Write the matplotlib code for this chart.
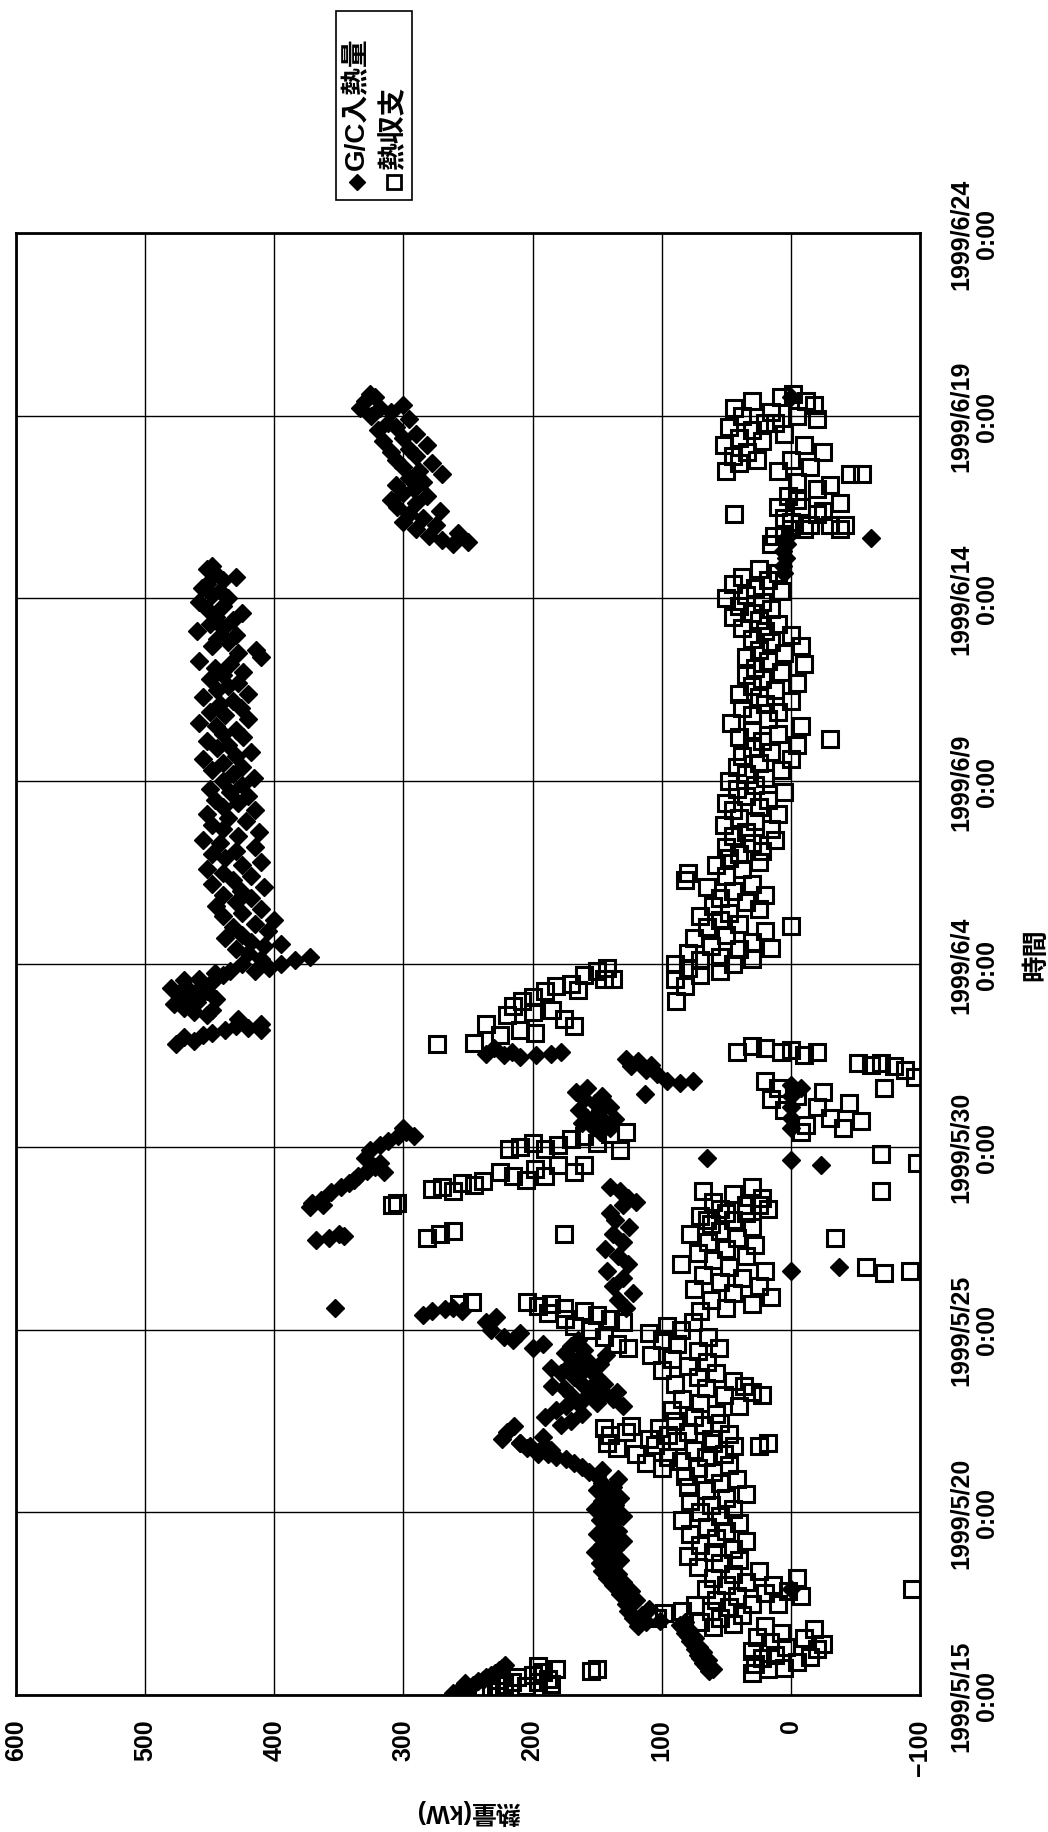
import matplotlib
matplotlib.use("Agg")
import matplotlib.pyplot as plt
from matplotlib.patches import Rectangle
from matplotlib.lines import Line2D
import numpy as np

plt.rcParams['font.family'] = ['Liberation Sans', 'Noto Sans CJK JP', 'DejaVu Sans']
plt.rcParams['font.weight'] = 'bold'

# ---- axis definitions ----
heat_ticks = [600, 500, 400, 300, 200, 100, 0, -100]
heat_labels = ["600", "500", "400", "300", "200", "100", "0", "\u2212100"]
day_ticks = [0, 5, 10, 15, 20, 25, 30, 35, 40]       # days from 1999/5/15 0:00
date_labels = ["1999/5/15\n0:00", "1999/5/20\n0:00", "1999/5/25\n0:00",
               "1999/5/30\n0:00", "1999/6/4\n0:00", "1999/6/9\n0:00",
               "1999/6/14\n0:00", "1999/6/19\n0:00", "1999/6/24\n0:00"]
legend_labels = ["G/C入熱量", "熱収支"]
heat_title = "熱量(kW)"
time_title = "時間"

# ---- G/C入熱量 (day, kW) ----
gc_may15_17 = [(0.05,262),(0.12,258),(0.18,255),(0.22,250),(0.28,246),(0.32,252),(0.38,242),
               (0.42,238),(0.48,236),(0.55,232),(0.6,229),(0.68,226),(0.75,224),(0.82,221),
               (0.65,63),(0.72,60),(0.8,66),(0.88,68),(0.95,64),(1.02,70),(1.1,72),(1.18,68),
               (1.25,74),(1.32,71),(1.4,76),(1.48,78),(1.55,74),(1.62,80),(1.7,82),(1.78,79),
               (1.85,84),(1.92,86),(2.0,82),(2.02,101),(2.9,0)]
gc_may17_22 = [(1.9,118),(2.0,112),(2.1,122),(2.2,115),(2.3,126),(2.35,110),(2.5,128),(2.6,120),
               (2.75,132),(2.85,124),(3.0,138),(3.1,130),(3.2,142),(3.3,134),(3.4,146),
               (3.5,138),(3.6,148),(3.7,132),(3.8,142),(3.9,152),(4.0,136),(4.1,146),(4.2,130),
               (4.3,140),(4.4,150),(4.5,134),(4.6,144),(4.7,138),(4.8,148),(4.9,130),(5.0,142),
               (5.1,152),(5.2,136),(5.3,146),(5.4,132),(5.5,142),(5.6,150),(5.7,138),(5.8,146),
               (5.9,134),(6.0,150),(6.1,156),(6.15,146),(6.25,162),(6.35,168),(6.45,174),
               (6.5,182),(6.6,188),(6.65,196),(6.75,204),(6.8,190),(6.9,210)]
gc_may22_28 = [(7.0,224),(7.2,220),(7.35,214),(6.9,210),(6.8,202),(6.6,196),(6.7,186),(7.05,192),
               (7.4,178),(7.5,170),(7.6,190),(7.8,182),(7.9,174),(8.0,165),(7.7,162),
               (8.1,160),(8.2,170),(8.3,155),(8.4,176),(8.5,162),(8.6,150),(8.7,168),(8.8,178),
               (8.9,160),(9.0,172),(9.1,156),(9.2,165),(9.3,143),(9.35,175),(9.45,160),
               (9.55,170),(9.7,165),(7.9,130),(8.1,138),(8.3,135),(8.5,145),
               (8.0,150),(8.25,145),(8.75,152),(9.05,148),(8.45,185),(8.95,186),
               (9.5,200),(9.6,192),(9.7,215),(9.8,222),(9.9,210),(10.0,232),(10.2,236),
               (10.35,228),(10.4,285),(10.5,278),(10.55,268),(10.6,262),(10.5,255),(10.6,353),
               (10.6,128),(10.8,134),(11.0,122),(11.2,138),(11.4,130),(11.6,142),(11.8,126),
               (12.0,134),(12.2,144),(12.4,130),(12.6,138),(12.8,125),(13.0,136),(13.2,140),
               (13.4,130),(13.6,126),(13.8,132),(13.9,140),(13.5,120),(11.6,0),(11.7,-37),
               (12.45,368),(12.5,358),(12.6,350),(12.55,346),(13.35,372),(13.4,362)]
gc_may28_jun03 = [(13.45,371),(13.55,364),(13.75,356),(13.9,348),(14.0,342),(14.1,338),(14.2,335),
                  (14.35,328),(14.45,322),(14.3,315),(14.55,318),(14.7,330),(14.9,326),(15.05,318),
                  (15.15,312),(15.3,304),(15.4,298),(15.3,292),(15.5,300),(18.2,410),
                  (17.55,236),(17.7,230),(17.5,222),(17.6,216),(17.45,210),(17.5,197),(17.55,186),
                  (17.6,178),(17.4,128),(17.2,124),(17.35,118),(17.1,112),(17.0,104),(17.25,108),
                  (16.8,96),(16.75,86),(16.8,76),(16.45,113),(16.5,166),(16.6,158),(16.3,160),
                  (16.2,152),(16.0,164),(15.9,150),(15.8,158),(15.7,145),(15.6,155),(15.5,140),
                  (15.4,148),(16.1,140),(15.75,136),(16.4,146),(16.0,148),(15.65,162),
                  (14.7,65),(15.5,0),(15.8,0),(16.1,0),
                  (16.4,0),(16.7,0),(16.6,-8),(14.65,0),(14.5,-23),
                  (17.8,476),(17.9,462),(18.0,470),(18.05,455),(18.1,448),(18.2,438),(18.3,430),
                  (18.25,420),(18.35,410),(18.5,428),(18.6,452),(18.7,462),(18.8,470),
                  (18.9,478),(19.0,468),(19.1,458),(19.2,474),(19.3,466),(19.4,456),(19.5,448),
                  (19.6,458),(19.7,440),(19.8,434),(19.75,446),(18.75,448),(19.05,445),
                  (19.35,480),(19.55,470),(18.95,460),(19.25,452)]
gc_jun04_13 = [(19.8,415),(19.9,404),(20.0,395),(20.1,384),(20.2,372),(20.0,425),(20.15,410),
               (20.3,420),(20.4,430),(20.5,408),(20.55,395),(20.6,418),(20.7,438),(20.8,425),
               (20.9,405),(21.0,432),(21.1,415),(21.2,400),(21.3,440),(21.4,425),(21.5,410),
               (21.6,445),(21.7,430),(21.8,418),(21.9,440),(22.0,426),(22.1,408),(22.2,448),
               (22.3,432),(22.4,418),(22.5,440),(22.6,452),(22.7,425),(22.8,410),(22.9,438),
               (23.0,448),(23.1,430),(23.2,415),(23.3,442),(23.4,455),(23.5,428),(23.6,412),
               (23.7,440),(23.8,448),(23.9,422),(24.0,436),(24.1,452),(24.2,415),(24.3,440),
               (24.4,428),(24.5,446),(24.6,420),(24.7,434),(24.8,450),(24.9,425),(25.0,440),
               (25.1,416),(25.2,432),(25.3,448),(25.4,425),(25.5,440),(25.6,455),(25.7,430),
               (25.8,418),(25.9,444),(26.0,436),(26.1,452),(26.2,424),(26.3,440),(26.4,430),
               (26.5,445),(26.6,458),(26.7,420),(26.8,438),(26.9,450),(27.0,426),(27.1,442),
               (27.2,432),(27.3,455),(27.4,420),(27.5,444),(27.6,436),(27.7,428),(27.8,450),
               (27.9,440),(28.0,424),(28.1,446),(28.2,434),(28.3,458),(28.4,410),(28.5,428),
               (28.6,414),(28.7,448),(28.8,436),(28.9,444),(29.0,430),(29.1,460),(29.2,440),
               (29.3,450),(29.4,432),(29.5,445),(29.6,425),(29.7,452),(29.8,440),(29.9,458),
               (30.0,436),(30.1,448),(30.2,442),(30.3,456),(30.4,452),(30.5,440),(30.6,430),
               (30.7,446),(30.8,452),(30.9,448)]
gc_jun14_19 = [(30.7,5),(30.9,6),(31.1,4),(31.3,6),(31.5,3),(31.7,2),(31.65,-62),(35.5,0),
               (31.5,262),(31.55,250),(31.6,270),(31.7,280),(31.8,258),(31.9,290),(32.0,275),
               (32.1,300),(32.2,285),(32.3,296),(32.4,272),(32.5,305),(32.6,290),(32.7,310),
               (32.8,282),(32.9,300),(33.0,292),(33.1,306),(33.2,285),(33.3,296),(33.4,270),
               (33.5,288),(33.6,300),(33.7,278),(33.8,306),(33.9,290),(34.0,310),(34.1,296),
               (34.2,282),(34.3,316),(34.4,300),(34.5,290),(34.6,320),(34.7,306),(34.8,312),
               (34.9,296),(35.0,325),(35.1,310),(35.2,318),(35.3,300),(35.4,330),(35.5,322),
               (35.6,326),(35.2,334)]

# ---- 熱収支 (day, kW) ----
hb_may15_22 = [(0.05,238),(0.12,228),(0.2,232),(0.28,222),(0.35,216),(0.42,226),(0.48,212),
               (0.25,205),(0.35,196),(0.45,188),(0.55,200),(0.62,192),(0.7,182),(0.78,196),
               (0.3,186),(0.65,155),(0.72,150),
               (0.6,30),(0.7,18),(0.75,5),(0.85,28),(0.9,-5),(1.0,22),(1.05,-15),(1.1,12),
               (1.2,30),(1.25,-20),(1.3,4),(1.4,-25),(1.45,16),(1.55,-10),(1.6,26),(1.7,8),
               (1.8,-18),(1.9,20),(2.1,104),(2.25,98),(2.3,84),(2.45,74),
               (1.85,60),(1.95,45),(2.0,70),(2.1,55),(2.2,38),(2.3,62),(2.4,48),(2.5,30),
               (2.6,58),(2.7,42),(2.8,20),(2.9,66),(3.0,50),(3.1,35),(3.2,60),(3.3,45),
               (3.4,25),(3.5,72),(3.6,55),(3.7,40),(2.5,10),(2.7,-8),(2.85,2),(3.0,14),
               (3.2,-5),(2.9,-94),
               (3.8,80),(3.9,60),(4.0,45),(4.1,70),(4.2,35),(4.3,58),(4.4,78),(4.5,50),
               (4.6,65),(4.7,40),(4.8,84),(4.9,55),(5.0,70),(5.1,45),(5.2,62),(5.3,78),
               (5.4,50),(5.5,35),(5.6,66),(5.7,80),(5.8,55),(5.9,42),
               (6.0,82),(6.1,60),(6.2,72),(6.3,48),(6.4,85),(6.5,66),(6.6,52),(6.7,75),
               (6.8,44),(6.9,60),(6.2,100),(6.35,112),(6.5,95),(6.6,120),(6.75,135),
               (6.85,105),(6.9,142),(6.8,25),(6.9,18)]
hb_may22_28 = [(7.1,140),(7.2,128),(7.3,145),(7.35,124),(7.0,110),(7.1,95),(7.2,80),(7.3,102),
               (7.4,68),(7.5,90),(7.45,55),(7.0,62),(7.15,48),(6.95,88),
               (7.6,75),(7.7,58),(7.8,92),(7.9,40),(8.0,70),(8.1,84),(8.2,52),(8.3,30),
               (8.4,66),(8.5,90),(8.6,45),(8.7,72),(8.8,58),(8.2,22),(8.45,36),
               (8.9,100),(9.0,80),(9.1,65),(9.2,92),(9.3,108),(9.4,72),(9.5,56),(9.6,88),
               (9.7,100),(9.8,64),(9.9,110),(10.0,85),(10.1,96),(10.2,76),
               (10.75,204),(10.65,196),(10.7,186),(10.6,176),(10.5,160),(10.4,150),(10.3,140),
               (10.2,130),(10.1,168),(10.0,155),(9.8,145),(9.6,135),(9.5,126),(10.45,188),
               (10.3,175),(10.7,257),(10.75,247),(12.6,176),(12.5,282),(12.6,272),(12.7,262),
               (13.4,309),
               (10.5,70),(10.6,50),(10.7,30),(10.8,62),(10.9,15),(11.0,45),(11.1,75),(11.2,25),
               (11.3,55),(11.4,38),(11.5,68),(11.6,20),(11.7,48),(11.8,85),(11.9,60),(12.0,35),
               (12.1,72),(12.2,50),(12.3,28),(12.4,64),(12.5,42),(12.6,78),(12.7,55),(12.8,30),
               (12.9,62),(13.0,45),(13.1,70),(13.2,35),(13.3,55),(13.4,25),
               (12.5,-34),(11.7,-58),(11.55,-72),(11.6,-92)]
hb_may28_jun03 = [(13.0,65),(13.2,50),(13.4,35),(13.5,60),(13.6,22),(13.7,45),(13.8,68),(13.9,30),
                  (13.3,18),(13.45,305),
                  (13.85,278),(13.9,270),(13.8,262),(14.0,255),(13.95,245),(14.05,238),(14.3,225),
                  (14.2,215),(14.1,205),(14.4,198),(14.2,190),(14.5,180),(14.3,168),(14.5,160),
                  (14.95,218),(15.0,210),(15.1,200),(14.95,190),(15.05,180),(15.2,170),(15.3,160),
                  (15.1,150),(15.35,140),(15.4,128),(14.9,132),
                  (17.6,42),(17.75,30),(17.7,20),(17.6,8),(17.65,0),(17.5,-10),(17.6,-20),
                  (17.3,-52),(17.25,-62),(17.3,-70),(17.2,-80),(17.1,-88),(16.9,-96),(16.6,-72),
                  (16.8,20),(16.6,10),(16.4,-5),(16.3,15),(16.1,-20),(16.0,5),(15.8,-30),
                  (15.6,-12),(15.5,-40),(16.2,-45),(16.5,-25),(15.7,-54),(15.4,-8),
                  (14.8,-70),(14.55,-98),(13.8,-70),
                  (19.8,150),(19.7,160),(19.6,145),(19.45,170),(19.4,182),(19.25,190),(19.1,200),
                  (19.0,208),(18.85,215),(18.7,200),(18.75,185),(18.5,176),(18.3,168),(18.2,210),
                  (18.1,198),(18.05,225),(18.35,236),(17.85,245),(19.6,138),(19.9,142),
                  (18.6,220),(19.3,165),(17.8,274),
                  (19.6,90),(19.7,70),(19.8,55),(19.9,80),(20.0,45),(19.0,89),(19.4,82)]
hb_jun04_13 = [(20.0,90),(20.1,70),(20.2,55),(20.3,80),(20.4,40),(20.5,62),(20.6,30),(20.7,75),
               (20.8,50),(20.9,20),(21.0,65),(21.1,40),(21.2,55),(20.15,30),(20.45,15),(21.05,0),
               (21.3,70),(21.4,48),(21.5,25),(21.6,60),(21.7,35),(21.8,55),(21.9,20),(22.0,45),
               (22.1,65),(22.2,30),(22.3,82),(22.4,50),(22.5,80),(22.6,38),(22.7,58),(22.8,25),
               (22.9,48),(23.0,40),(23.1,22),(23.2,50),(23.3,30),(23.4,12),(23.5,45),(23.6,35),
               (23.7,15),(23.8,52),(23.9,28),(24.0,40),(24.1,10),(24.2,45),(24.3,25),(24.4,50),
               (24.5,18),(24.6,35),(24.7,5),(24.8,42),(24.9,28),(25.0,48),(25.1,20),(25.2,35),
               (25.3,8),(25.4,42),(25.5,25),(25.6,0),(25.7,38),(25.8,15),(25.9,30),(26.0,-5),
               (26.1,22),(26.2,40),(26.3,10),(26.4,30),(26.5,-8),(26.6,46),(26.7,18),(26.15,-30),
               (26.8,30),(26.9,10),(27.0,38),(27.1,20),(27.2,0),(27.3,25),(27.4,40),(27.5,12),
               (27.6,30),(27.7,-5),(27.8,22),(27.9,35),(28.0,8),(28.1,28),(28.2,-10),(28.3,18),
               (28.4,35),(28.5,5),(28.6,25),(28.7,-8),(28.8,15),(28.9,30),(29.0,0),(29.1,20),
               (29.2,38),(29.3,10),(29.4,25),(29.5,45),(29.6,30),(29.7,15),(29.8,40),(29.9,22),
               (30.0,50),(30.1,35),(30.2,8),(30.3,28),(30.4,45),(30.5,18),(30.6,38),(30.7,10),
               (30.8,25)]
hb_jun14_19 = [(32.3,44),(31.5,15),(31.7,5),(31.9,-10),(32.1,0),(32.3,-20),(32.5,10),(32.7,-5),
               (32.0,-30),(31.9,-38),
               (31.7,13),(31.9,0),(32.0,-15),(32.2,5),(32.4,-25),(32.5,-8),(32.6,-38),(32.8,2),
               (33.0,-20),(33.1,-30),(33.2,-5),(33.4,-46),(33.5,10),(33.6,-15),(32.0,-42),
               (33.4,-55),
               (33.5,50),(33.7,40),(33.8,26),(33.9,45),(34.0,34),(34.2,52),(34.3,22),(34.4,40),
               (34.6,30),(34.7,48),(34.8,20),(35.0,38),(35.2,44),(35.4,30),
               (34.8,12),(35.0,-5),(35.1,15),(35.3,-18),(35.5,8),(35.6,-2),(35.4,-12),(34.9,-20),
               (34.5,5),(34.2,-10),(34.0,-25),(33.8,0)]

gc_points = np.array(gc_may15_17 + gc_may17_22 + gc_may22_28 + gc_may28_jun03
                     + gc_jun04_13 + gc_jun14_19)
hb_points = np.array(hb_may15_22 + hb_may22_28 + hb_may28_jun03 + hb_jun04_13 + hb_jun14_19)

# ---- figure (portrait: heat runs horizontally, time runs upward) ----
W, H = 1048, 1833
fig = plt.figure(figsize=(W / 100, H / 100), dpi=100)
fig.patch.set_facecolor("white")

ax_l, ax_r, ax_t, ax_b = 16, 920, 234, 1696
ax = fig.add_axes([ax_l / W, 1 - ax_b / H, (ax_r - ax_l) / W, (ax_b - ax_t) / H])

ax.plot(gc_points[:, 1], gc_points[:, 0], linestyle="none", marker="D",
        markersize=9.5, color="black", zorder=3)
ax.plot(hb_points[:, 1], hb_points[:, 0], linestyle="none", marker="s",
        markersize=11, markerfacecolor="none", markeredgecolor="black",
        markeredgewidth=2.2, zorder=4)

ax.set_xlim(600, -100)
ax.set_ylim(0, 40)
ax.set_xticks(heat_ticks)
ax.set_xticklabels(heat_labels, rotation=90, ha="center", va="top", fontsize=18)
ax.set_yticks(day_ticks)
ax.yaxis.tick_right()
ax.set_yticklabels(date_labels, rotation=90, ha="left", va="center",
                   multialignment="center", fontsize=18, linespacing=1.1)
ax.tick_params(axis="x", length=0, pad=17)
ax.tick_params(axis="y", length=0, pad=21)
ax.grid(True, color="black", linewidth=1.0)
ax.set_axisbelow(True)
for sp in ax.spines.values():
    sp.set_linewidth(2.0)
    sp.set_color("black")

# axis titles
fig.text(468 / W, 1 - 1812 / H, heat_title, rotation=180, ha="center", va="center",
         fontsize=18)
fig.text(1036 / W, 1 - 955 / H, time_title, rotation=90, ha="center", va="center",
         fontsize=19)

# legend box
lx0, ly0, lx1, ly1 = 336, 12, 412, 201
fig.patches.append(Rectangle((lx0 / W, 1 - ly1 / H), (lx1 - lx0) / W, (ly1 - ly0) / H,
                             transform=fig.transFigure, facecolor="white",
                             edgecolor="black", linewidth=1.2))
col_x = [357, 394]
markers = [dict(marker="D", markersize=8.5, color="black"),
           dict(marker="s", markersize=9.5, markerfacecolor="none",
                markeredgecolor="black", markeredgewidth=2.0)]
for cx, mk, lab in zip(col_x, markers, legend_labels):
    fig.lines.append(Line2D([cx / W], [1 - 183 / H], transform=fig.transFigure,
                            linestyle="none", **mk))
    fig.text(cx / W, 1 - 170 / H, lab, rotation=90, ha="center", va="bottom",
             fontsize=20)

fig.savefig("out.png", dpi=100, facecolor="white")
